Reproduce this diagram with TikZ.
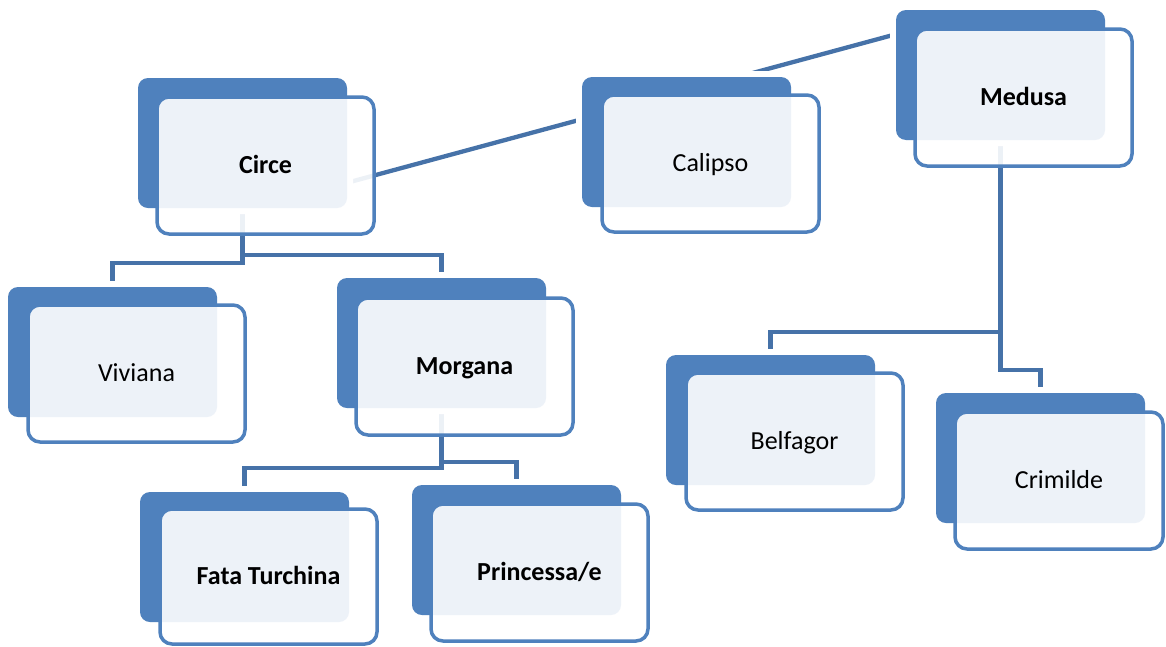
\documentclass[tikz,border=0pt]{standalone}
\usepackage{fontspec}
\setmainfont{Carlito}
\usetikzlibrary{backgrounds}
\definecolor{acc}{HTML}{4F81BD}
\definecolor{linec}{HTML}{4672A8}
\tikzset{
  backbox/.style={anchor=north west, fill=acc, rounded corners=10pt,
    minimum width=209pt, minimum height=130pt, inner sep=0pt, outer sep=0pt,
    preaction={draw=white, line width=12pt}},
  frontbox/.style={anchor=north west, draw=acc, line width=3.5pt, fill=white,
    fill opacity=0.9, text opacity=1, text=black, rounded corners=12pt,
    minimum width=217pt, minimum height=137pt, inner sep=0pt, outer sep=0pt,
    font=\fontsize{26}{30}\selectfont, text height=16.7pt, text depth=0pt},
  conn/.style={draw=linec, line width=4.3pt}
}
\begin{document}
\begin{tikzpicture}[x=1pt,y=-1pt]
\useasboundingbox (0,0) rectangle (1166,646);
% Circe
\node[backbox] (circeb) at (138,78) {};
\node[frontbox] (circe) at (157,97) {\textbf{Circe}};
% Calipso
\node[backbox] (calb) at (582,77) {};
\node[frontbox] (cal) at (602,95) {Calipso};
% Medusa
\node[backbox] (medb) at (896,10) {};
\node[frontbox] (med) at (915,29) {\textbf{Medusa}};
% Viviana
\node[backbox] (vivb) at (8,287) {};
\node[frontbox] (viv) at (28,305) {Viviana};
% Morgana
\node[backbox] (morb) at (337,278) {};
\node[frontbox] (mor) at (356,298) {\textbf{Morgana}};
% Fata Turchina
\node[backbox] (fatab) at (140,492) {};
\node[frontbox, minimum height=135pt] (fata) at (160,509) {\textbf{Fata Turchina}};
% Princessa/e
\node[backbox] (prinb) at (412,485) {};
\node[frontbox] (prin) at (431,504) {\textbf{Princessa/e}};
% Belfagor
\node[backbox] (belb) at (666,355) {};
\node[frontbox] (bel) at (686,373) {Belfagor};
% Crimilde
\node[backbox] (crimb) at (936,393) {};
\node[frontbox, minimum width=208pt] (crim) at (955,412) {Crimilde};

\coordinate (dA) at (300,195.5);
\coordinate (dB) at (940,22.3);
\begin{scope}[on background layer]
  \draw[conn] (circeb.south) -- ++(0,55) -| (vivb.north);
  \draw[conn] (circeb.south) -- ++(0,47) -| (morb.north);
  \draw[conn] (morb.south) -- ++(0,60) -| (fatab.north);
  \draw[conn] (morb.south) -- ++(0,54) -| (prinb.north);
  \draw[conn] (medb.south) -- ++(0,192) -| (belb.north);
  \draw[conn] (medb.south) -- ++(0,230) -| (crimb.north);
  \draw[conn] (dA) -- (dB);
\end{scope}
\end{tikzpicture}
\end{document}
